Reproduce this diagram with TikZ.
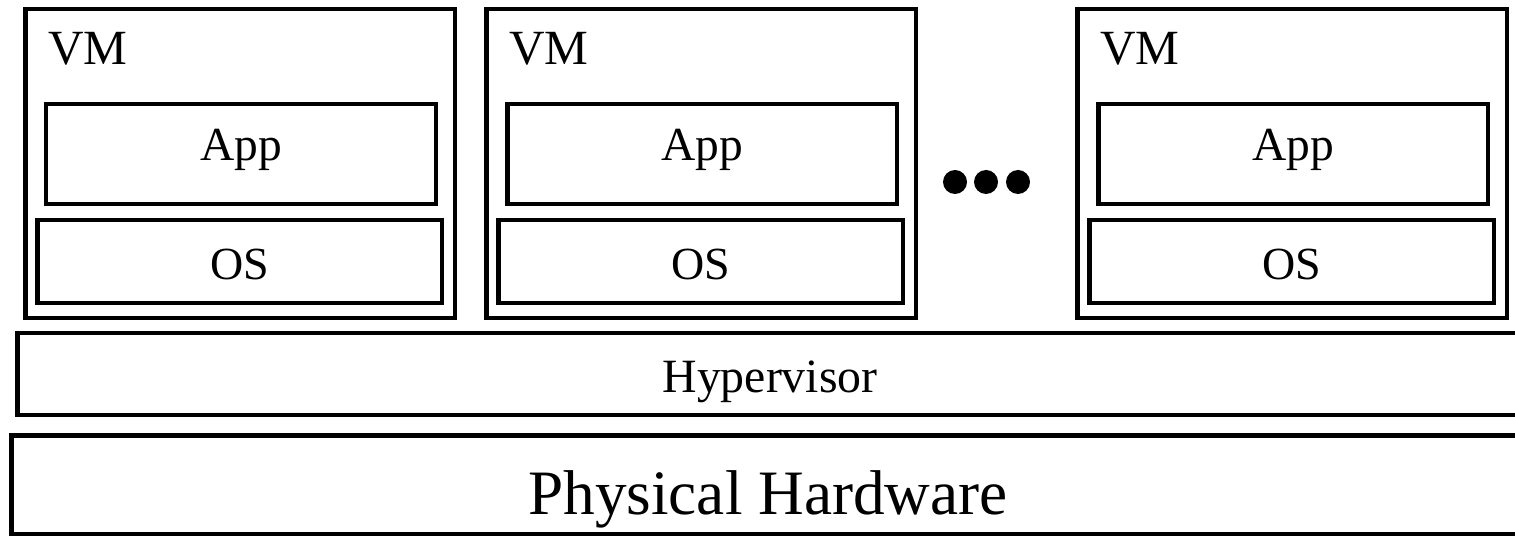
\documentclass[tikz,border=0pt]{standalone}
\usepackage{fontspec}
\setmainfont{Liberation Serif}
\usetikzlibrary{positioning}

\begin{document}
\begin{tikzpicture}[
    x=0.02cm, y=-0.02cm,
    layer/.style={rectangle, draw, line width=2.8pt, inner sep=0pt, text depth=0pt},
    vmbox/.style={layer, minimum width=8.6cm, minimum height=6.18cm},
    appbox/.style={layer, minimum width=7.8cm, minimum height=2cm, text height=0.26cm, font=\fontsize{27}{32}\selectfont},
    osbox/.style={layer, minimum width=8.1cm, minimum height=1.66cm, text height=0.74cm, font=\fontsize{26.2}{31}\selectfont},
    vmtext/.style={inner sep=0pt, anchor=base west, font=\fontsize{28}{33}\selectfont}
]
\useasboundingbox (0,0) rectangle (1515,536);

% Virtual machines
\foreach \vx/\n in {25/1, 486/2, 1077/3} {
    \node[vmbox] (vm\n) at (\vx+215, 163.5) {};
    \node[vmtext] (vmlabel\n) at (\vx+23, 65) {VM};
    \node[appbox] (app\n) at (\vx+216, 154) {App};
    \node[osbox] (os\n) at (\vx+214.5, 261.5) {OS};
}

% More VMs
\foreach \dx in {955, 986, 1018} {
    \fill (\dx, 182) circle (0.24cm);
}

% Hypervisor
\node[layer, minimum width=30.12cm, minimum height=1.64cm, text height=0.76cm, font=\fontsize{27.2}{32}\selectfont] (hyper) at (770, 374) {Hypervisor};

% Physical hardware
\node[layer, minimum width=30.26cm, minimum height=1.97cm, text height=1.21cm, font=\fontsize{36}{42}\selectfont] (hw) at (768, 484.75) {Physical Hardware};

\end{tikzpicture}
\end{document}
